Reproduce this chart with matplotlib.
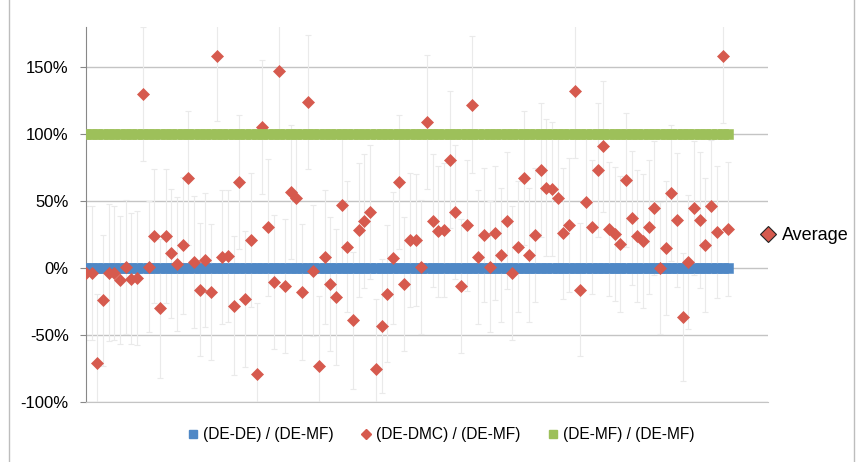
import numpy as np
import matplotlib
matplotlib.use("Agg")
from matplotlib import pyplot as plt
from matplotlib.lines import Line2D
from matplotlib.patches import Rectangle

plt.rcParams['font.family'] = ['Liberation Sans', 'DejaVu Sans']

# ratio of distance measures, one value per sample (in %)
de_dmc = [-4, -4, -71, -24, -3.5, -4, -9, 1, -8, -7.5,
          130, 1, 24, -30, 24, 11, 3, 17, 67, 4.5,
          -16, 6, -18, 158, 8, 9, -28, 64, -23, 21,
          -79, 105, 30.5, -10.5, 147, -13.5, 57, 52, -18, 124,
          -2, -73, 8, -12, -21.5, 47, 16, -39, 28.5, 35,
          42, -75, -43, -19, 7.5, 64, -12, 21, 21, 1,
          109, 35.5, 27.5, 28.5, 81, 42, -13.5, 32, 122, 8,
          25, 1, 26, 10, 35.5, -3.5, 16, 67, 10, 25,
          73, 60, 59, 52, 26, 32, 132, -16, 49, 30.5,
          73, 91, 29, 25.5, 18, 66, 37.5, 24, 20.5, 30.5,
          45, 0, 15, 56, 36, -36.5, 4.5, 45, 36, 17,
          46, 27, 158, 29]

# error bar half-widths (in %)
de_dmc_err = [50, 50, 52, 49, 51, 50, 48, 50, 49, 50,
              50, 49, 50, 52, 50, 48, 50, 51, 50, 49,
              50, 50, 51, 48, 50, 49, 52, 50, 51, 50,
              53, 50, 51, 50, 49, 50, 50, 50, 51, 50,
              49, 52, 50, 50, 51, 50, 49, 51, 50, 50,
              50, 52, 50, 51, 49, 50, 50, 50, 49, 50,
              50, 50, 49, 50, 51, 50, 50, 49, 51, 50,
              50, 49, 50, 50, 51, 50, 49, 50, 50, 50,
              50, 51, 50, 50, 49, 50, 50, 50, 51, 50,
              50, 49, 50, 50, 51, 50, 50, 49, 50, 50,
              50, 49, 50, 51, 50, 48, 50, 50, 51, 50,
              50, 49, 50, 50]

de_de = [0] * len(de_dmc)
de_mf = [100] * len(de_dmc)

labels = ['(DE-DE) / (DE-MF)', '(DE-DMC) / (DE-MF)', '(DE-MF) / (DE-MF)']
yticks = [-100, -50, 0, 50, 100, 150]
ytick_labels = ['-100%', '-50%', '0%', '50%', '100%', '150%']

c_blue = '#4F88C6'
c_red = '#D65A4E'
c_green = '#9DC05A'
c_grid = '#C4C4C4'

x = np.arange(1, len(de_dmc) + 1)

fig = plt.figure(figsize=(8.65, 4.62), dpi=100)
ax = fig.add_axes([86 / 865, 1 - 402 / 462, (768 - 86) / 865, (402 - 27) / 462])

ax.plot(x, de_de, ls='none', marker='s', ms=7.0, mew=0.4,
        color=c_blue, zorder=3)
ax.errorbar(x, de_dmc, yerr=de_dmc_err, fmt='none', ecolor='#EAEAEA',
            elinewidth=0.8, capsize=2.5, capthick=0.8, zorder=2)
ax.plot(x, de_dmc, ls='none', marker='D', ms=6.5, mew=0.5,
        color=c_red, zorder=4)
ax.plot(x, de_mf, ls='none', marker='s', ms=7.0, mew=0.4,
        color=c_green, zorder=5)

ax.set_xlim(1, 121)
ax.set_ylim(-100, 180)
ax.set_yticks(yticks)
ax.set_yticklabels(ytick_labels, fontsize=12)
ax.set_xticks([])
ax.yaxis.grid(True, color=c_grid, lw=1.0)
ax.set_axisbelow(True)
for s in ['top', 'right']:
    ax.spines[s].set_visible(False)
ax.spines['bottom'].set_color(c_grid)
ax.spines['left'].set_color('#888888')
ax.tick_params(axis='y', length=4.5, color='#888888', pad=8)

# chart frame
fig.add_artist(Rectangle((9 / 865, -0.01), (854 - 9) / 865, 1.02,
                         transform=fig.transFigure, fill=False,
                         edgecolor='#BDBDBD', lw=1.0))

handles = [Line2D([], [], ls='none', marker='s', ms=6, color=c_blue),
           Line2D([], [], ls='none', marker='D', ms=5, color=c_red),
           Line2D([], [], ls='none', marker='s', ms=6, color=c_green)]
fig.legend(handles, labels, loc='center', bbox_to_anchor=(441 / 865, 1 - 435 / 462),
           ncol=3, frameon=False, fontsize=11.2, handlelength=0.7,
           handletextpad=0.3, columnspacing=1.75)

avg = Line2D([], [], ls='none', marker='D', ms=8, mew=0.8,
             color=c_red, mec='#222222')
fig.legend([avg], ['Average'], loc='center left',
           bbox_to_anchor=(745 / 865, 1 - 236 / 462), frameon=False,
           fontsize=13, handlelength=0.8, handletextpad=0.35)

fig.savefig('out.png', dpi=100)
